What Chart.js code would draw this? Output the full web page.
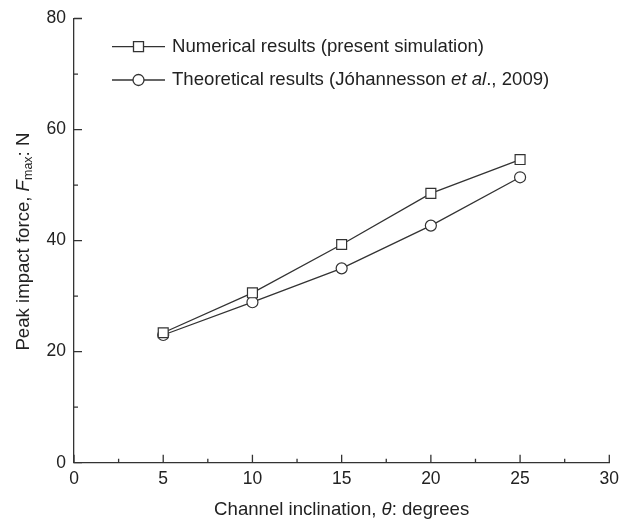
<!DOCTYPE html>
<html>
<head>
<meta charset="utf-8">
<script src="https://cdn.jsdelivr.net/npm/chart.js@4/dist/chart.umd.min.js"></script>
<style>
  html, body { margin: 0; padding: 0; background: #fff; }
  #wrap { width: 630px; height: 522px; position: relative; }
</style>
</head>
<body>
<div id="wrap"><canvas id="c" width="630" height="522"></canvas></div>
<script>
// Data
const inclinations = [5, 10, 15, 20, 25];
const numericalForce = [23.4, 30.6, 39.3, 48.5, 54.6];
const theoreticalForce = [23.0, 28.9, 35.0, 42.7, 51.4];
const xTicksMajor = [0, 5, 10, 15, 20, 25, 30];
const xTicksMinor = [2.5, 7.5, 12.5, 17.5, 22.5, 27.5];
const yTicksMajor = [0, 20, 40, 60, 80];
const yTicksMinor = [10, 30, 50, 70];

const INK = '#333333';
const FONT = '"Liberation Sans", Arial, Helvetica, sans-serif';
const TXT = '18.6px ' + FONT;
const TXT_I = 'italic 18.6px ' + FONT;

function toXY(xs, ys) { return xs.map((x, i) => ({ x: x, y: ys[i] })); }

const decorPlugin = {
  id: 'decor',
  afterDraw(chart) {
    const ctx = chart.ctx;
    const xs = chart.scales.x, ys = chart.scales.y;
    const ca = chart.chartArea;
    ctx.save();
    // inward ticks
    ctx.strokeStyle = INK;
    ctx.lineWidth = 1.3;
    ctx.beginPath();
    xTicksMajor.forEach(v => { const p = xs.getPixelForValue(v); ctx.moveTo(p, ca.bottom); ctx.lineTo(p, ca.bottom - 8); });
    xTicksMinor.forEach(v => { const p = xs.getPixelForValue(v); ctx.moveTo(p, ca.bottom); ctx.lineTo(p, ca.bottom - 4); });
    yTicksMajor.forEach(v => { const p = ys.getPixelForValue(v); ctx.moveTo(ca.left, p); ctx.lineTo(ca.left + 8, p); });
    yTicksMinor.forEach(v => { const p = ys.getPixelForValue(v); ctx.moveTo(ca.left, p); ctx.lineTo(ca.left + 4, p); });
    ctx.stroke();

    ctx.fillStyle = '#222';
    ctx.textBaseline = 'middle';
    ctx.textAlign = 'left';

    // x-axis title
    const xParts = [
      { t: 'Channel inclination, ', f: TXT },
      { t: 'θ', f: TXT_I },
      { t: ': degrees', f: TXT }
    ];
    let w = 0;
    xParts.forEach(p => { ctx.font = p.f; p.w = ctx.measureText(p.t).width; w += p.w; });
    let cx = (ca.left + ca.right) / 2 - w / 2;
    xParts.forEach(p => { ctx.font = p.f; ctx.fillText(p.t, cx, 510); cx += p.w; });

    // y-axis title (rotated)
    ctx.save();
    ctx.translate(24, (ca.top + ca.bottom) / 2 + 1);
    ctx.rotate(-Math.PI / 2);
    const yParts = [
      { t: 'Peak impact force, ', f: TXT, dy: 0 },
      { t: 'F', f: TXT_I, dy: 0 },
      { t: 'max', f: '12.5px ' + FONT, dy: 5 },
      { t: ': N', f: TXT, dy: 0 }
    ];
    w = 0;
    yParts.forEach(p => { ctx.font = p.f; p.w = ctx.measureText(p.t).width; w += p.w; });
    cx = -w / 2;
    yParts.forEach(p => { ctx.font = p.f; ctx.fillText(p.t, cx, p.dy); cx += p.w; });
    ctx.restore();

    // legend
    const rows = [
      { y: 46.7, style: 'rect', parts: [{ t: 'Numerical results (present simulation)', f: TXT }] },
      { y: 80, style: 'circle', parts: [
        { t: 'Theoretical results (Jóhannesson ', f: TXT },
        { t: 'et al', f: TXT_I },
        { t: '., 2009)', f: TXT }
      ] }
    ];
    rows.forEach(r => {
      ctx.strokeStyle = INK;
      ctx.lineWidth = 1.3;
      ctx.beginPath();
      ctx.moveTo(112, r.y); ctx.lineTo(165, r.y);
      ctx.stroke();
      ctx.fillStyle = '#fff';
      ctx.beginPath();
      if (r.style === 'rect') ctx.rect(138.5 - 5, r.y - 5, 10, 10);
      else ctx.arc(138.5, r.y, 5.5, 0, Math.PI * 2);
      ctx.fill(); ctx.stroke();
      ctx.fillStyle = '#222';
      let tx = 172;
      r.parts.forEach(p => { ctx.font = p.f; ctx.fillText(p.t, tx, r.y); tx += ctx.measureText(p.t).width; });
    });
    ctx.restore();
  }
};

new Chart(document.getElementById('c'), {
  type: 'line',
  data: {
    datasets: [
      {
        label: 'Numerical results (present simulation)',
        data: toXY(inclinations, numericalForce),
        borderColor: INK, borderWidth: 1.3,
        pointStyle: 'rect', pointRadius: 7, pointHoverRadius: 7,
        pointBackgroundColor: '#fff', pointBorderColor: INK, pointBorderWidth: 1.2,
        tension: 0, fill: false
      },
      {
        label: 'Theoretical results (Jóhannesson et al., 2009)',
        data: toXY(inclinations, theoreticalForce),
        borderColor: INK, borderWidth: 1.3,
        pointStyle: 'circle', pointRadius: 5.5, pointHoverRadius: 5.5,
        pointBackgroundColor: '#fff', pointBorderColor: INK, pointBorderWidth: 1.2,
        tension: 0, fill: false
      }
    ]
  },
  options: {
    responsive: false,
    animation: false,
    events: [],
    layout: { padding: { top: 17, right: 20.7, left: 0, bottom: 0 } },
    plugins: { legend: { display: false }, tooltip: { enabled: false } },
    scales: {
      x: {
        type: 'linear', min: 0, max: 30,
        afterBuildTicks: s => { s.ticks = xTicksMajor.map(v => ({ value: v })); },
        afterFit: s => { s.height = 59.3; },
        ticks: { color: '#222', padding: 6, font: { size: 17.5, family: FONT } },
        grid: { display: true, drawOnChartArea: false, drawTicks: false },
        border: { color: INK, width: 1.3 }
      },
      y: {
        type: 'linear', min: 0, max: 80,
        afterBuildTicks: s => { s.ticks = yTicksMajor.map(v => ({ value: v })); },
        afterFit: s => { s.width = 74; },
        ticks: { color: '#222', padding: 8, font: { size: 17.5, family: FONT } },
        grid: { display: true, drawOnChartArea: false, drawTicks: false },
        border: { color: INK, width: 1.3 }
      }
    }
  },
  plugins: [decorPlugin]
});
</script>
</body>
</html>
